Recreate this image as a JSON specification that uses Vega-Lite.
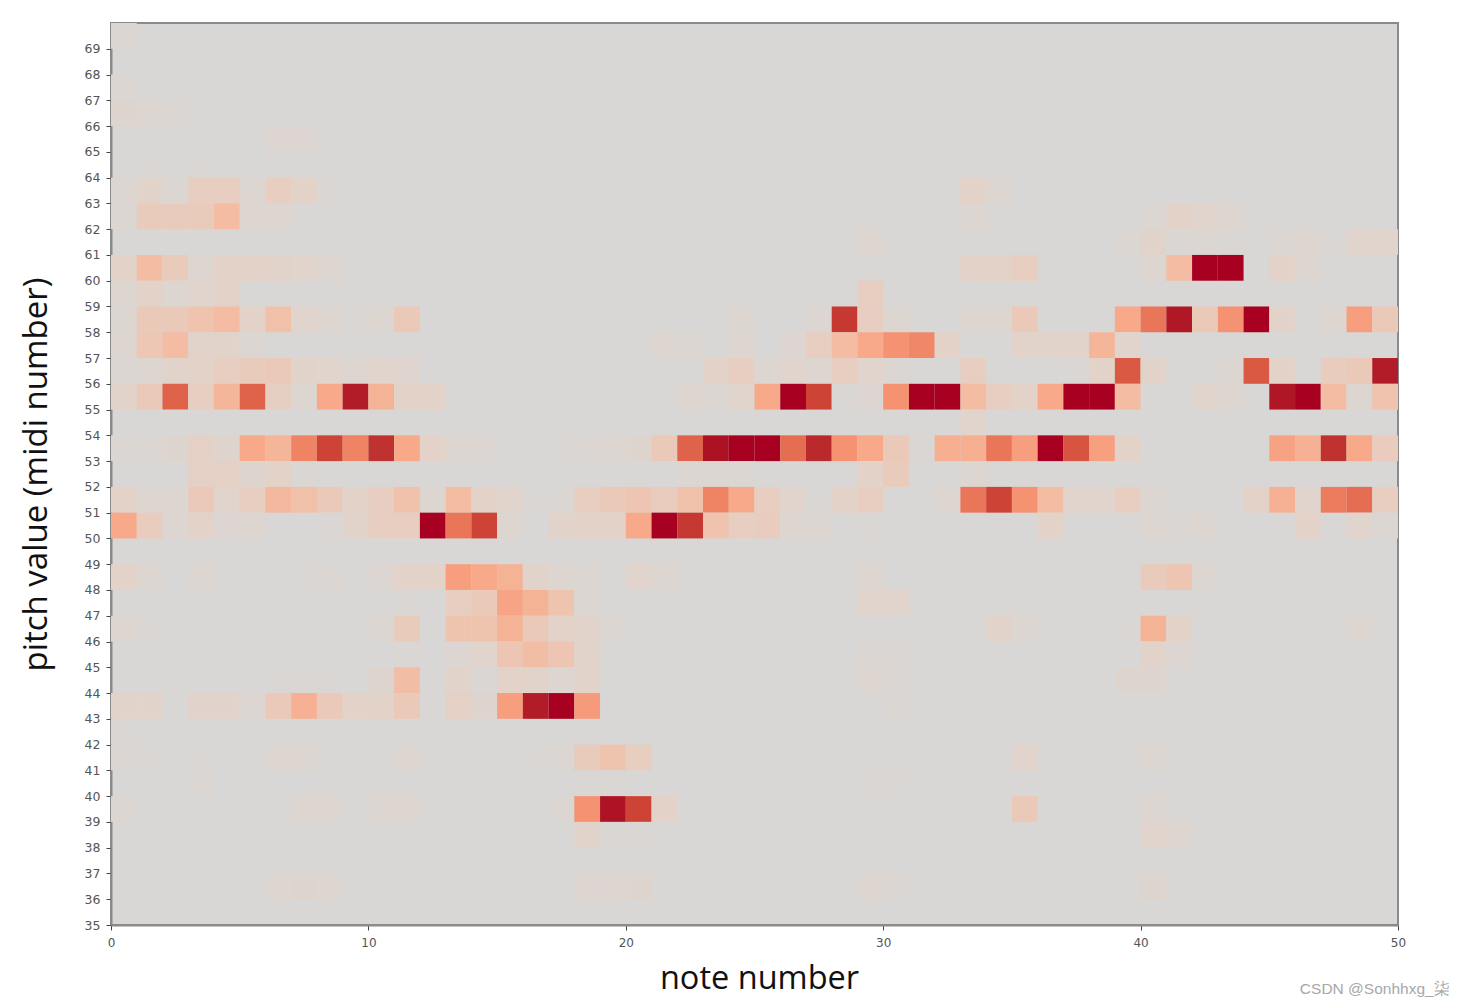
{"$schema":"https://vega.github.io/schema/vega-lite/v6.json","width":1287,"height":902,"autosize":"none","padding":{"left":111,"top":23,"right":67,"bottom":83},"background":"white","view":{"fill":"#d8d7d5","stroke":"#8a8a8a","strokeWidth":2},"title":{"text":"CSDN @Sonhhxg_柒","orient":"bottom","anchor":"end","font":"Liberation Sans","fontSize":15.5,"fontWeight":"normal","color":"#a8a8a8","offset":0,"dx":44,"dy":-13},"data":{"values":[
{"n":0,"m":1,"p":69,"q":70,"v":0.7},
{"n":0,"m":1,"p":67,"q":68,"v":0.6},
{"n":0,"m":1,"p":66,"q":67,"v":1.2},{"n":1,"m":2,"p":66,"q":67,"v":1},{"n":2,"m":3,"p":66,"q":67,"v":0.6},
{"n":6,"m":7,"p":65,"q":66,"v":0.8},{"n":7,"m":8,"p":65,"q":66,"v":0.8},
{"n":1,"m":2,"p":64,"q":65,"v":0.5},{"n":3,"m":4,"p":64,"q":65,"v":0.5},
{"n":0,"m":1,"p":63,"q":64,"v":1},{"n":1,"m":2,"p":63,"q":64,"v":1.7},{"n":2,"m":3,"p":63,"q":64,"v":0.7},{"n":3,"m":4,"p":63,"q":64,"v":2.5},{"n":4,"m":5,"p":63,"q":64,"v":2.5},{"n":5,"m":6,"p":63,"q":64,"v":1},{"n":6,"m":7,"p":63,"q":64,"v":2.5},{"n":7,"m":8,"p":63,"q":64,"v":2},{"n":8,"m":9,"p":63,"q":64,"v":0.5},{"n":33,"m":34,"p":63,"q":64,"v":2},{"n":34,"m":35,"p":63,"q":64,"v":1},
{"n":0,"m":1,"p":62,"q":63,"v":0.7},{"n":1,"m":2,"p":62,"q":63,"v":2.8},{"n":2,"m":3,"p":62,"q":63,"v":2.8},{"n":3,"m":4,"p":62,"q":63,"v":2.8},{"n":4,"m":5,"p":62,"q":63,"v":4},{"n":5,"m":6,"p":62,"q":63,"v":1},{"n":6,"m":7,"p":62,"q":63,"v":1},{"n":33,"m":34,"p":62,"q":63,"v":1},{"n":40,"m":41,"p":62,"q":63,"v":0.7},{"n":41,"m":42,"p":62,"q":63,"v":2},{"n":42,"m":43,"p":62,"q":63,"v":1.5},{"n":43,"m":44,"p":62,"q":63,"v":1},
{"n":29,"m":30,"p":61,"q":62,"v":1},{"n":39,"m":40,"p":61,"q":62,"v":0.7},{"n":40,"m":41,"p":61,"q":62,"v":1.7},{"n":41,"m":42,"p":61,"q":62,"v":0.5},{"n":42,"m":43,"p":61,"q":62,"v":0.7},{"n":43,"m":44,"p":61,"q":62,"v":0.3},{"n":45,"m":46,"p":61,"q":62,"v":0.7},{"n":46,"m":47,"p":61,"q":62,"v":1},{"n":47,"m":48,"p":61,"q":62,"v":0.5},{"n":48,"m":49,"p":61,"q":62,"v":1.5},{"n":49,"m":50,"p":61,"q":62,"v":1.5},
{"n":0,"m":1,"p":60,"q":61,"v":2},{"n":1,"m":2,"p":60,"q":61,"v":4},{"n":2,"m":3,"p":60,"q":61,"v":2.8},{"n":3,"m":4,"p":60,"q":61,"v":1},{"n":4,"m":5,"p":60,"q":61,"v":2},{"n":5,"m":6,"p":60,"q":61,"v":2},{"n":6,"m":7,"p":60,"q":61,"v":1.7},{"n":7,"m":8,"p":60,"q":61,"v":1.5},{"n":8,"m":9,"p":60,"q":61,"v":1},{"n":33,"m":34,"p":60,"q":61,"v":2},{"n":34,"m":35,"p":60,"q":61,"v":2},{"n":35,"m":36,"p":60,"q":61,"v":2.5},{"n":40,"m":41,"p":60,"q":61,"v":1},{"n":41,"m":42,"p":60,"q":61,"v":4},{"n":42,"m":43,"p":60,"q":61,"v":10},{"n":43,"m":44,"p":60,"q":61,"v":10},{"n":45,"m":46,"p":60,"q":61,"v":2},{"n":46,"m":47,"p":60,"q":61,"v":1},
{"n":0,"m":1,"p":59,"q":60,"v":1},{"n":1,"m":2,"p":59,"q":60,"v":2},{"n":2,"m":3,"p":59,"q":60,"v":1},{"n":3,"m":4,"p":59,"q":60,"v":1.5},{"n":4,"m":5,"p":59,"q":60,"v":2},{"n":29,"m":30,"p":59,"q":60,"v":2.5},
{"n":0,"m":1,"p":58,"q":59,"v":1},{"n":1,"m":2,"p":58,"q":59,"v":3},{"n":2,"m":3,"p":58,"q":59,"v":3},{"n":3,"m":4,"p":58,"q":59,"v":3.5},{"n":4,"m":5,"p":58,"q":59,"v":4},{"n":5,"m":6,"p":58,"q":59,"v":2},{"n":6,"m":7,"p":58,"q":59,"v":3.7},{"n":7,"m":8,"p":58,"q":59,"v":1.5},{"n":8,"m":9,"p":58,"q":59,"v":1},{"n":9,"m":10,"p":58,"q":59,"v":0.5},{"n":10,"m":11,"p":58,"q":59,"v":1},{"n":11,"m":12,"p":58,"q":59,"v":3},{"n":24,"m":25,"p":58,"q":59,"v":1},{"n":27,"m":28,"p":58,"q":59,"v":0.8},{"n":28,"m":29,"p":58,"q":59,"v":8.3},{"n":29,"m":30,"p":58,"q":59,"v":2.5},{"n":30,"m":31,"p":58,"q":59,"v":1},{"n":33,"m":34,"p":58,"q":59,"v":1},{"n":34,"m":35,"p":58,"q":59,"v":1},{"n":35,"m":36,"p":58,"q":59,"v":3},{"n":39,"m":40,"p":58,"q":59,"v":5},{"n":40,"m":41,"p":58,"q":59,"v":7},{"n":41,"m":42,"p":58,"q":59,"v":9.2},{"n":42,"m":43,"p":58,"q":59,"v":3},{"n":43,"m":44,"p":58,"q":59,"v":6},{"n":44,"m":45,"p":58,"q":59,"v":10},{"n":45,"m":46,"p":58,"q":59,"v":1.7},{"n":47,"m":48,"p":58,"q":59,"v":1},{"n":48,"m":49,"p":58,"q":59,"v":5.5},{"n":49,"m":50,"p":58,"q":59,"v":3},
{"n":0,"m":1,"p":57,"q":58,"v":1},{"n":1,"m":2,"p":57,"q":58,"v":3.2},{"n":2,"m":3,"p":57,"q":58,"v":4},{"n":3,"m":4,"p":57,"q":58,"v":1.8},{"n":4,"m":5,"p":57,"q":58,"v":1.8},{"n":5,"m":6,"p":57,"q":58,"v":0.7},{"n":21,"m":22,"p":57,"q":58,"v":1},{"n":22,"m":23,"p":57,"q":58,"v":0.7},{"n":24,"m":25,"p":57,"q":58,"v":1},{"n":26,"m":27,"p":57,"q":58,"v":0.8},{"n":27,"m":28,"p":57,"q":58,"v":2.5},{"n":28,"m":29,"p":57,"q":58,"v":4},{"n":29,"m":30,"p":57,"q":58,"v":5},{"n":30,"m":31,"p":57,"q":58,"v":6},{"n":31,"m":32,"p":57,"q":58,"v":6.4},{"n":32,"m":33,"p":57,"q":58,"v":2},{"n":35,"m":36,"p":57,"q":58,"v":1.7},{"n":36,"m":37,"p":57,"q":58,"v":1.7},{"n":37,"m":38,"p":57,"q":58,"v":1.7},{"n":38,"m":39,"p":57,"q":58,"v":4.4},{"n":39,"m":40,"p":57,"q":58,"v":1.5},
{"n":0,"m":1,"p":56,"q":57,"v":0.7},{"n":1,"m":2,"p":56,"q":57,"v":1},{"n":2,"m":3,"p":56,"q":57,"v":1.8},{"n":3,"m":4,"p":56,"q":57,"v":2},{"n":4,"m":5,"p":56,"q":57,"v":2.5},{"n":5,"m":6,"p":56,"q":57,"v":2.8},{"n":6,"m":7,"p":56,"q":57,"v":3},{"n":7,"m":8,"p":56,"q":57,"v":1.8},{"n":8,"m":9,"p":56,"q":57,"v":1.5},{"n":9,"m":10,"p":56,"q":57,"v":1},{"n":10,"m":11,"p":56,"q":57,"v":1.5},{"n":11,"m":12,"p":56,"q":57,"v":1.3},{"n":23,"m":24,"p":56,"q":57,"v":2},{"n":24,"m":25,"p":56,"q":57,"v":2.5},{"n":25,"m":26,"p":56,"q":57,"v":1},{"n":26,"m":27,"p":56,"q":57,"v":1.5},{"n":27,"m":28,"p":56,"q":57,"v":1},{"n":28,"m":29,"p":56,"q":57,"v":2.5},{"n":29,"m":30,"p":56,"q":57,"v":1.5},{"n":30,"m":31,"p":56,"q":57,"v":0.7},{"n":33,"m":34,"p":56,"q":57,"v":2.5},{"n":37,"m":38,"p":56,"q":57,"v":0.5},{"n":38,"m":39,"p":56,"q":57,"v":2},{"n":39,"m":40,"p":56,"q":57,"v":7.6},{"n":40,"m":41,"p":56,"q":57,"v":1.7},{"n":43,"m":44,"p":56,"q":57,"v":1},{"n":44,"m":45,"p":56,"q":57,"v":7.6},{"n":45,"m":46,"p":56,"q":57,"v":2},{"n":47,"m":48,"p":56,"q":57,"v":2.6},{"n":48,"m":49,"p":56,"q":57,"v":3},{"n":49,"m":50,"p":56,"q":57,"v":9},
{"n":0,"m":1,"p":55,"q":56,"v":1.7},{"n":1,"m":2,"p":55,"q":56,"v":3},{"n":2,"m":3,"p":55,"q":56,"v":7.4},{"n":3,"m":4,"p":55,"q":56,"v":2.4},{"n":4,"m":5,"p":55,"q":56,"v":4.3},{"n":5,"m":6,"p":55,"q":56,"v":7.4},{"n":6,"m":7,"p":55,"q":56,"v":2.3},{"n":7,"m":8,"p":55,"q":56,"v":1},{"n":8,"m":9,"p":55,"q":56,"v":5},{"n":9,"m":10,"p":55,"q":56,"v":9},{"n":10,"m":11,"p":55,"q":56,"v":4.5},{"n":11,"m":12,"p":55,"q":56,"v":2},{"n":12,"m":13,"p":55,"q":56,"v":2},{"n":22,"m":23,"p":55,"q":56,"v":1},{"n":23,"m":24,"p":55,"q":56,"v":0.7},{"n":24,"m":25,"p":55,"q":56,"v":1.5},{"n":25,"m":26,"p":55,"q":56,"v":5},{"n":26,"m":27,"p":55,"q":56,"v":10},{"n":27,"m":28,"p":55,"q":56,"v":8},{"n":28,"m":29,"p":55,"q":56,"v":0.3},{"n":29,"m":30,"p":55,"q":56,"v":0.8},{"n":30,"m":31,"p":55,"q":56,"v":6},{"n":31,"m":32,"p":55,"q":56,"v":10},{"n":32,"m":33,"p":55,"q":56,"v":10},{"n":33,"m":34,"p":55,"q":56,"v":4},{"n":34,"m":35,"p":55,"q":56,"v":2.5},{"n":35,"m":36,"p":55,"q":56,"v":2},{"n":36,"m":37,"p":55,"q":56,"v":5},{"n":37,"m":38,"p":55,"q":56,"v":10},{"n":38,"m":39,"p":55,"q":56,"v":10},{"n":39,"m":40,"p":55,"q":56,"v":4},{"n":42,"m":43,"p":55,"q":56,"v":1.5},{"n":43,"m":44,"p":55,"q":56,"v":1},{"n":45,"m":46,"p":55,"q":56,"v":9.3},{"n":46,"m":47,"p":55,"q":56,"v":10},{"n":47,"m":48,"p":55,"q":56,"v":4},{"n":48,"m":49,"p":55,"q":56,"v":1},{"n":49,"m":50,"p":55,"q":56,"v":3.5},
{"n":33,"m":34,"p":54,"q":55,"v":1.5},
{"n":0,"m":1,"p":53,"q":54,"v":0.7},{"n":1,"m":2,"p":53,"q":54,"v":0.7},{"n":2,"m":3,"p":53,"q":54,"v":1.2},{"n":3,"m":4,"p":53,"q":54,"v":2.2},{"n":4,"m":5,"p":53,"q":54,"v":1.4},{"n":5,"m":6,"p":53,"q":54,"v":5},{"n":6,"m":7,"p":53,"q":54,"v":4.4},{"n":7,"m":8,"p":53,"q":54,"v":6.5},{"n":8,"m":9,"p":53,"q":54,"v":8},{"n":9,"m":10,"p":53,"q":54,"v":6.5},{"n":10,"m":11,"p":53,"q":54,"v":8.5},{"n":11,"m":12,"p":53,"q":54,"v":5},{"n":12,"m":13,"p":53,"q":54,"v":2},{"n":13,"m":14,"p":53,"q":54,"v":1},{"n":14,"m":15,"p":53,"q":54,"v":0.8},{"n":17,"m":18,"p":53,"q":54,"v":0.5},{"n":18,"m":19,"p":53,"q":54,"v":0.7},{"n":19,"m":20,"p":53,"q":54,"v":1},{"n":20,"m":21,"p":53,"q":54,"v":1.2},{"n":21,"m":22,"p":53,"q":54,"v":3},{"n":22,"m":23,"p":53,"q":54,"v":7.4},{"n":23,"m":24,"p":53,"q":54,"v":9.5},{"n":24,"m":25,"p":53,"q":54,"v":10},{"n":25,"m":26,"p":53,"q":54,"v":10},{"n":26,"m":27,"p":53,"q":54,"v":7.2},{"n":27,"m":28,"p":53,"q":54,"v":8.7},{"n":28,"m":29,"p":53,"q":54,"v":6},{"n":29,"m":30,"p":53,"q":54,"v":5},{"n":30,"m":31,"p":53,"q":54,"v":3},{"n":31,"m":32,"p":53,"q":54,"v":0.5},{"n":32,"m":33,"p":53,"q":54,"v":4.7},{"n":33,"m":34,"p":53,"q":54,"v":4.7},{"n":34,"m":35,"p":53,"q":54,"v":7},{"n":35,"m":36,"p":53,"q":54,"v":5.5},{"n":36,"m":37,"p":53,"q":54,"v":10},{"n":37,"m":38,"p":53,"q":54,"v":7.7},{"n":38,"m":39,"p":53,"q":54,"v":5.4},{"n":39,"m":40,"p":53,"q":54,"v":2},{"n":45,"m":46,"p":53,"q":54,"v":5.3},{"n":46,"m":47,"p":53,"q":54,"v":4.6},{"n":47,"m":48,"p":53,"q":54,"v":8.5},{"n":48,"m":49,"p":53,"q":54,"v":5},{"n":49,"m":50,"p":53,"q":54,"v":2.7},
{"n":3,"m":4,"p":52,"q":53,"v":2.2},{"n":4,"m":5,"p":52,"q":53,"v":2.2},{"n":5,"m":6,"p":52,"q":53,"v":1.2},{"n":6,"m":7,"p":52,"q":53,"v":2},{"n":7,"m":8,"p":52,"q":53,"v":0.3},{"n":22,"m":23,"p":52,"q":53,"v":0.7},{"n":23,"m":24,"p":52,"q":53,"v":0.7},{"n":24,"m":25,"p":52,"q":53,"v":0.7},{"n":29,"m":30,"p":52,"q":53,"v":2},{"n":30,"m":31,"p":52,"q":53,"v":2.8},{"n":33,"m":34,"p":52,"q":53,"v":1},
{"n":0,"m":1,"p":51,"q":52,"v":2},{"n":1,"m":2,"p":51,"q":52,"v":1},{"n":2,"m":3,"p":51,"q":52,"v":1},{"n":3,"m":4,"p":51,"q":52,"v":3},{"n":4,"m":5,"p":51,"q":52,"v":1.5},{"n":5,"m":6,"p":51,"q":52,"v":2.5},{"n":6,"m":7,"p":51,"q":52,"v":4.2},{"n":7,"m":8,"p":51,"q":52,"v":3.7},{"n":8,"m":9,"p":51,"q":52,"v":3},{"n":9,"m":10,"p":51,"q":52,"v":2},{"n":10,"m":11,"p":51,"q":52,"v":2.5},{"n":11,"m":12,"p":51,"q":52,"v":3.6},{"n":12,"m":13,"p":51,"q":52,"v":1},{"n":13,"m":14,"p":51,"q":52,"v":4},{"n":14,"m":15,"p":51,"q":52,"v":2},{"n":15,"m":16,"p":51,"q":52,"v":1.5},{"n":16,"m":17,"p":51,"q":52,"v":0.5},{"n":17,"m":18,"p":51,"q":52,"v":0.5},{"n":18,"m":19,"p":51,"q":52,"v":2.5},{"n":19,"m":20,"p":51,"q":52,"v":3},{"n":20,"m":21,"p":51,"q":52,"v":3.3},{"n":21,"m":22,"p":51,"q":52,"v":2.7},{"n":22,"m":23,"p":51,"q":52,"v":3.6},{"n":23,"m":24,"p":51,"q":52,"v":6.5},{"n":24,"m":25,"p":51,"q":52,"v":5},{"n":25,"m":26,"p":51,"q":52,"v":2.5},{"n":26,"m":27,"p":51,"q":52,"v":1.5},{"n":27,"m":28,"p":51,"q":52,"v":0.5},{"n":28,"m":29,"p":51,"q":52,"v":2},{"n":29,"m":30,"p":51,"q":52,"v":2.5},{"n":32,"m":33,"p":51,"q":52,"v":1},{"n":33,"m":34,"p":51,"q":52,"v":7},{"n":34,"m":35,"p":51,"q":52,"v":8},{"n":35,"m":36,"p":51,"q":52,"v":6},{"n":36,"m":37,"p":51,"q":52,"v":4},{"n":37,"m":38,"p":51,"q":52,"v":1.5},{"n":38,"m":39,"p":51,"q":52,"v":1.5},{"n":39,"m":40,"p":51,"q":52,"v":2.5},{"n":40,"m":41,"p":51,"q":52,"v":1},{"n":44,"m":45,"p":51,"q":52,"v":2},{"n":45,"m":46,"p":51,"q":52,"v":4.6},{"n":46,"m":47,"p":51,"q":52,"v":1.5},{"n":47,"m":48,"p":51,"q":52,"v":6.8},{"n":48,"m":49,"p":51,"q":52,"v":7.2},{"n":49,"m":50,"p":51,"q":52,"v":2.5},
{"n":0,"m":1,"p":50,"q":51,"v":5},{"n":1,"m":2,"p":50,"q":51,"v":2.7},{"n":2,"m":3,"p":50,"q":51,"v":1},{"n":3,"m":4,"p":50,"q":51,"v":2},{"n":4,"m":5,"p":50,"q":51,"v":0.8},{"n":5,"m":6,"p":50,"q":51,"v":1},{"n":8,"m":9,"p":50,"q":51,"v":0.5},{"n":9,"m":10,"p":50,"q":51,"v":1.7},{"n":10,"m":11,"p":50,"q":51,"v":2.5},{"n":11,"m":12,"p":50,"q":51,"v":2.5},{"n":12,"m":13,"p":50,"q":51,"v":10},{"n":13,"m":14,"p":50,"q":51,"v":7},{"n":14,"m":15,"p":50,"q":51,"v":8},{"n":15,"m":16,"p":50,"q":51,"v":1},{"n":17,"m":18,"p":50,"q":51,"v":1.8},{"n":18,"m":19,"p":50,"q":51,"v":2},{"n":19,"m":20,"p":50,"q":51,"v":2},{"n":20,"m":21,"p":50,"q":51,"v":5},{"n":21,"m":22,"p":50,"q":51,"v":10},{"n":22,"m":23,"p":50,"q":51,"v":8.3},{"n":23,"m":24,"p":50,"q":51,"v":3.5},{"n":24,"m":25,"p":50,"q":51,"v":2.5},{"n":25,"m":26,"p":50,"q":51,"v":2.7},{"n":26,"m":27,"p":50,"q":51,"v":1},{"n":27,"m":28,"p":50,"q":51,"v":1},{"n":29,"m":30,"p":50,"q":51,"v":0.5},{"n":36,"m":37,"p":50,"q":51,"v":2},{"n":40,"m":41,"p":50,"q":51,"v":1},{"n":41,"m":42,"p":50,"q":51,"v":0.5},{"n":42,"m":43,"p":50,"q":51,"v":1},{"n":46,"m":47,"p":50,"q":51,"v":2},{"n":48,"m":49,"p":50,"q":51,"v":1.5},{"n":49,"m":50,"p":50,"q":51,"v":0.7},
{"n":0,"m":1,"p":48,"q":49,"v":2},{"n":1,"m":2,"p":48,"q":49,"v":1},{"n":3,"m":4,"p":48,"q":49,"v":1},{"n":7,"m":8,"p":48,"q":49,"v":0.5},{"n":8,"m":9,"p":48,"q":49,"v":0.7},{"n":10,"m":11,"p":48,"q":49,"v":0.8},{"n":11,"m":12,"p":48,"q":49,"v":2},{"n":12,"m":13,"p":48,"q":49,"v":2},{"n":13,"m":14,"p":48,"q":49,"v":5.5},{"n":14,"m":15,"p":48,"q":49,"v":5},{"n":15,"m":16,"p":48,"q":49,"v":4.5},{"n":16,"m":17,"p":48,"q":49,"v":1.7},{"n":17,"m":18,"p":48,"q":49,"v":1},{"n":18,"m":19,"p":48,"q":49,"v":0.7},{"n":20,"m":21,"p":48,"q":49,"v":1.5},{"n":21,"m":22,"p":48,"q":49,"v":1},{"n":29,"m":30,"p":48,"q":49,"v":1},{"n":40,"m":41,"p":48,"q":49,"v":2.8},{"n":41,"m":42,"p":48,"q":49,"v":3.3},{"n":42,"m":43,"p":48,"q":49,"v":1},
{"n":11,"m":12,"p":47,"q":48,"v":0.5},{"n":13,"m":14,"p":47,"q":48,"v":2.5},{"n":14,"m":15,"p":47,"q":48,"v":3},{"n":15,"m":16,"p":47,"q":48,"v":5.2},{"n":16,"m":17,"p":47,"q":48,"v":4.5},{"n":17,"m":18,"p":47,"q":48,"v":3.4},{"n":18,"m":19,"p":47,"q":48,"v":0.7},{"n":29,"m":30,"p":47,"q":48,"v":1.5},{"n":30,"m":31,"p":47,"q":48,"v":1.5},
{"n":0,"m":1,"p":46,"q":47,"v":1},{"n":1,"m":2,"p":46,"q":47,"v":0.3},{"n":10,"m":11,"p":46,"q":47,"v":0.7},{"n":11,"m":12,"p":46,"q":47,"v":2.8},{"n":13,"m":14,"p":46,"q":47,"v":3.4},{"n":14,"m":15,"p":46,"q":47,"v":3.4},{"n":15,"m":16,"p":46,"q":47,"v":4.5},{"n":16,"m":17,"p":46,"q":47,"v":3},{"n":17,"m":18,"p":46,"q":47,"v":2},{"n":18,"m":19,"p":46,"q":47,"v":1.7},{"n":19,"m":20,"p":46,"q":47,"v":0.7},{"n":34,"m":35,"p":46,"q":47,"v":1.7},{"n":35,"m":36,"p":46,"q":47,"v":1},{"n":39,"m":40,"p":46,"q":47,"v":0.5},{"n":40,"m":41,"p":46,"q":47,"v":4.5},{"n":41,"m":42,"p":46,"q":47,"v":2},{"n":48,"m":49,"p":46,"q":47,"v":1},
{"n":11,"m":12,"p":45,"q":46,"v":0.5},{"n":13,"m":14,"p":45,"q":46,"v":0.8},{"n":14,"m":15,"p":45,"q":46,"v":1.5},{"n":15,"m":16,"p":45,"q":46,"v":3.3},{"n":16,"m":17,"p":45,"q":46,"v":3.9},{"n":17,"m":18,"p":45,"q":46,"v":3.3},{"n":18,"m":19,"p":45,"q":46,"v":1.7},{"n":29,"m":30,"p":45,"q":46,"v":0.7},{"n":30,"m":31,"p":45,"q":46,"v":0.7},{"n":40,"m":41,"p":45,"q":46,"v":1.7},{"n":41,"m":42,"p":45,"q":46,"v":0.8},
{"n":6,"m":7,"p":44,"q":45,"v":0.5},{"n":7,"m":8,"p":44,"q":45,"v":0.5},{"n":8,"m":9,"p":44,"q":45,"v":0.5},{"n":10,"m":11,"p":44,"q":45,"v":1.2},{"n":11,"m":12,"p":44,"q":45,"v":3.9},{"n":13,"m":14,"p":44,"q":45,"v":1.7},{"n":14,"m":15,"p":44,"q":45,"v":0.4},{"n":15,"m":16,"p":44,"q":45,"v":2},{"n":16,"m":17,"p":44,"q":45,"v":1.8},{"n":17,"m":18,"p":44,"q":45,"v":1},{"n":18,"m":19,"p":44,"q":45,"v":1.8},{"n":29,"m":30,"p":44,"q":45,"v":1},{"n":30,"m":31,"p":44,"q":45,"v":0.7},{"n":39,"m":40,"p":44,"q":45,"v":1.2},{"n":40,"m":41,"p":44,"q":45,"v":1.2},
{"n":0,"m":1,"p":43,"q":44,"v":1.8},{"n":1,"m":2,"p":43,"q":44,"v":1.8},{"n":3,"m":4,"p":43,"q":44,"v":1.6},{"n":4,"m":5,"p":43,"q":44,"v":1.6},{"n":5,"m":6,"p":43,"q":44,"v":0.8},{"n":6,"m":7,"p":43,"q":44,"v":3},{"n":7,"m":8,"p":43,"q":44,"v":4.6},{"n":8,"m":9,"p":43,"q":44,"v":3},{"n":9,"m":10,"p":43,"q":44,"v":2},{"n":10,"m":11,"p":43,"q":44,"v":2},{"n":11,"m":12,"p":43,"q":44,"v":3},{"n":13,"m":14,"p":43,"q":44,"v":2.2},{"n":14,"m":15,"p":43,"q":44,"v":1.4},{"n":15,"m":16,"p":43,"q":44,"v":5.5},{"n":16,"m":17,"p":43,"q":44,"v":9},{"n":17,"m":18,"p":43,"q":44,"v":10},{"n":18,"m":19,"p":43,"q":44,"v":5.6},{"n":30,"m":31,"p":43,"q":44,"v":0.7},
{"n":0,"m":1,"p":42,"q":43,"v":0.4},
{"n":0,"m":1,"p":41,"q":42,"v":0.7},{"n":1,"m":2,"p":41,"q":42,"v":0.3},{"n":3,"m":4,"p":41,"q":42,"v":0.3},{"n":6,"m":7,"p":41,"q":42,"v":1},{"n":7,"m":8,"p":41,"q":42,"v":1},{"n":11,"m":12,"p":41,"q":42,"v":1},{"n":16,"m":17,"p":41,"q":42,"v":0.3},{"n":17,"m":18,"p":41,"q":42,"v":0.7},{"n":18,"m":19,"p":41,"q":42,"v":2.8},{"n":19,"m":20,"p":41,"q":42,"v":3.4},{"n":20,"m":21,"p":41,"q":42,"v":2.5},{"n":35,"m":36,"p":41,"q":42,"v":1.5},{"n":40,"m":41,"p":41,"q":42,"v":1},
{"n":3,"m":4,"p":40,"q":41,"v":0.7},{"n":18,"m":19,"p":40,"q":41,"v":0.3},{"n":19,"m":20,"p":40,"q":41,"v":0.3},{"n":29,"m":30,"p":40,"q":41,"v":0.5},{"n":30,"m":31,"p":40,"q":41,"v":0.5},
{"n":0,"m":1,"p":39,"q":40,"v":0.7},{"n":7,"m":8,"p":39,"q":40,"v":1},{"n":8,"m":9,"p":39,"q":40,"v":1},{"n":10,"m":11,"p":39,"q":40,"v":1},{"n":11,"m":12,"p":39,"q":40,"v":1},{"n":17,"m":18,"p":39,"q":40,"v":0.7},{"n":18,"m":19,"p":39,"q":40,"v":6},{"n":19,"m":20,"p":39,"q":40,"v":9.4},{"n":20,"m":21,"p":39,"q":40,"v":8},{"n":21,"m":22,"p":39,"q":40,"v":2},{"n":35,"m":36,"p":39,"q":40,"v":3},{"n":40,"m":41,"p":39,"q":40,"v":1},
{"n":18,"m":19,"p":38,"q":39,"v":1.7},{"n":19,"m":20,"p":38,"q":39,"v":0.5},{"n":20,"m":21,"p":38,"q":39,"v":0.3},{"n":40,"m":41,"p":38,"q":39,"v":1.5},{"n":41,"m":42,"p":38,"q":39,"v":1},
{"n":6,"m":7,"p":36,"q":37,"v":1},{"n":7,"m":8,"p":36,"q":37,"v":1.2},{"n":8,"m":9,"p":36,"q":37,"v":1},{"n":18,"m":19,"p":36,"q":37,"v":1},{"n":19,"m":20,"p":36,"q":37,"v":1},{"n":20,"m":21,"p":36,"q":37,"v":1.2},{"n":29,"m":30,"p":36,"q":37,"v":1},{"n":30,"m":31,"p":36,"q":37,"v":0.7},{"n":40,"m":41,"p":36,"q":37,"v":1.2}
]},
"mark":{"type":"rect","stroke":null},
"encoding":{
"x":{"field":"n","type":"quantitative","scale":{"domain":[0,50],"nice":false,"zero":false},"axis":{"title":"note number","titleFont":"Open Sans","titleFontSize":32.5,"titleFontWeight":"normal","titleColor":"#111","titlePadding":14,"titleX":648,"values":[0,10,20,30,40,50],"labelFont":"DejaVu Sans","labelFontSize":12,"labelColor":"#555","labelPadding":7,"labelFlush":false,"labelOverlap":false,"tickColor":"#444","tickSize":5,"grid":false,"domainColor":"#8a8a8a","domainWidth":2,"format":"d"}},
"x2":{"field":"m"},
"y":{"field":"p","type":"quantitative","scale":{"domain":[35,70],"nice":false,"zero":false},"axis":{"title":"pitch value (midi number)","titleFont":"Open Sans","titleFontSize":33,"titleFontWeight":"normal","titleColor":"#111","titlePadding":31,"values":[35,36,37,38,39,40,41,42,43,44,45,46,47,48,49,50,51,52,53,54,55,56,57,58,59,60,61,62,63,64,65,66,67,68,69],"labelFont":"DejaVu Sans","labelFontSize":12.5,"labelColor":"#555","labelPadding":6,"labelFlush":false,"labelOverlap":false,"tickColor":"#444","tickSize":5,"grid":false,"domainColor":"#8a8a8a","domainWidth":2,"format":"d"}},
"y2":{"field":"q"},
"color":{"field":"v","type":"quantitative","legend":null,"scale":{"type":"linear","domain":[0,0.5,1,2,3,4,5,6,7,8,9,10],"range":["#d8d7d5","#dad6d3","#ddd5d0","#e3d2c8","#ebc9b8","#f3bca3","#f7a98a","#f49272","#ea7659","#cd4436","#b21c28","#a80020"]}}
}}
